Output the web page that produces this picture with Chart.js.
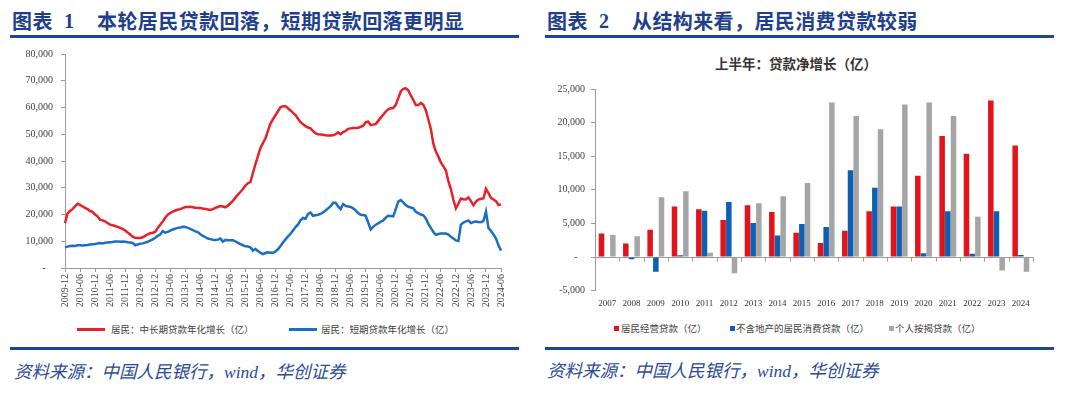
<!DOCTYPE html>
<html>
<head>
<meta charset="utf-8">
<script src="https://cdn.jsdelivr.net/npm/chart.js@4"></script>
<style>
  body { margin: 0; width: 1080px; height: 393px; background: #fff; position: relative; overflow: hidden; }
  .abs { position: absolute; white-space: nowrap; }
  .head { font-family: "Noto Sans CJK SC", sans-serif; font-weight: 700; font-size: 20px; line-height: 20px; color: #1f3f8c; letter-spacing: 0.4px; }
  .rule { position: absolute; height: 3px; background: #1f4690; }
  .src { font-family: "Noto Sans CJK SC", sans-serif; font-style: italic; font-size: 17.5px; line-height: 20px; color: #2a4b98; }
  .src i { font-family: "Liberation Serif", serif; }
  .leg { font-family: "Noto Sans CJK SC", sans-serif; font-size: 9.5px; line-height: 12px; color: #404040; }
</style>
</head>
<body>
<!-- left header -->
<div class="abs head" style="left:12px;top:11px">图表</div>
<div class="abs head" style="left:64px;top:11px;font-family:'Liberation Serif',serif">1</div>
<div class="abs head" style="left:97px;top:11px">本轮居民贷款回落，短期贷款回落更明显</div>
<div class="rule" style="left:10px;top:35px;width:509px"></div>

<!-- right header -->
<div class="abs head" style="left:547px;top:11px">图表</div>
<div class="abs head" style="left:599px;top:11px;font-family:'Liberation Serif',serif">2</div>
<div class="abs head" style="left:632px;top:11px">从结构来看，居民消费贷款较弱</div>
<div class="rule" style="left:545px;top:35px;width:509px"></div>

<div class="abs" style="left:715px;top:55px;font-family:'Noto Sans CJK SC',sans-serif;font-weight:700;font-size:13.5px;line-height:16px;color:#333">上半年：贷款净增长（亿）</div>

<canvas id="c1" width="520" height="280" style="position:absolute;left:0;top:40px"></canvas>
<canvas id="c2" width="510" height="250" style="position:absolute;left:540px;top:70px"></canvas>

<!-- left legend -->
<div class="abs" style="left:77px;top:328px;width:28px;height:3px;background:#e8202a"></div>
<div class="abs leg" style="left:111px;top:323px">居民：中长期贷款年化增长（亿）</div>
<div class="abs" style="left:289px;top:328px;width:28px;height:3px;background:#1b6ec2"></div>
<div class="abs leg" style="left:321px;top:323px">居民：短期贷款年化增长（亿）</div>

<!-- right legend -->
<div class="abs" style="left:614px;top:326px;width:5px;height:5px;background:#e3131b"></div>
<div class="abs leg" style="left:621px;top:322px">居民经营贷款（亿）</div>
<div class="abs" style="left:730px;top:326px;width:5px;height:5px;background:#0b5fb5"></div>
<div class="abs leg" style="left:736px;top:322px">不含地产的居民消费贷款（亿）</div>
<div class="abs" style="left:889px;top:326px;width:5px;height:5px;background:#a5a5a5"></div>
<div class="abs leg" style="left:895px;top:322px">个人按揭贷款（亿）</div>

<div class="rule" style="left:10px;top:347px;width:509px"></div>
<div class="rule" style="left:545px;top:347px;width:509px"></div>
<div class="abs src" style="left:14px;top:361px">资料来源：中国人民银行，<i>wind</i>，华创证券</div>
<div class="abs src" style="left:547px;top:360px">资料来源：中国人民银行，<i>wind</i>，华创证券</div>

<script>
// ---- left chart data: monthly, 2009-12 .. 2024-06 ----
const midLong = [
  16800, 20300, 21300, 22000, 23000, 24000, 23600, 23000, 22500, 22000,
  21300, 21000, 20000, 19300, 18000, 17800, 17400, 16800, 16200, 16000,
  15700, 15400, 15000, 14600, 14000, 13300, 12500, 11700, 11300, 11200,
  11200, 11500, 12000, 12600, 13000, 13200, 13500, 15000, 16200, 17400,
  18800, 19900, 20500, 21100, 21500, 21800, 22000, 22400, 22800, 22800,
  22900, 22700, 22500, 22400, 22400, 22200, 22100, 21900, 21700, 22000,
  22500, 22800, 23200, 23000, 22700, 23300, 24200, 25100, 26300, 27400,
  28400, 29500, 30800, 31700, 32100, 35500, 38800, 41800, 44900, 46700,
  48500, 51300, 54000, 55600, 57100, 58600, 60100, 60500, 60500, 59700,
  58900, 58000, 57200, 55800, 54500, 53700, 53000, 52500, 52200, 51200,
  50300, 50000, 49900, 49800, 49600, 49500, 49500, 49600, 50000, 50700,
  50000, 50800, 51200, 52000, 52200, 52300, 52300, 52400, 52800, 53200,
  54500, 54700, 53400, 53600, 53800, 55000, 56200, 57300, 58500, 59300,
  59700, 59800, 61000, 63500, 66000, 67000, 67200, 66400, 64500, 62800,
  60900, 60900, 61700, 61000, 59000, 55500, 52000, 46500, 43500, 41700,
  39500, 38000, 36500, 32500, 29500, 25500, 22300, 24000, 26000, 25700,
  25600, 26400, 25000, 23500, 24800, 25600, 25900, 26000, 29600, 28000,
  26200, 25600, 25000, 23500, 23800
];
const shortTerm = [
  7700, 8000, 8200, 8300, 8200, 8500, 8500, 8400, 8500, 8600,
  8800, 8900, 9000, 9200, 9300, 9200, 9400, 9500, 9600, 9700,
  9900, 9900, 9800, 9900, 9800, 9600, 9500, 9400, 8500, 8800,
  9100, 9200, 9500, 9800, 10200, 10700, 11300, 12000, 12500, 13800,
  13200, 13500, 14000, 14400, 14700, 15000, 15100, 15400, 15300, 15000,
  14600, 14200, 13700, 13400, 12600, 12000, 11500, 11000, 10800, 10600,
  10500, 10600, 11000, 9900, 10500, 10400, 10400, 10400, 10000, 9400,
  8900, 8500, 8100, 8000, 7700, 6500, 7100, 6400, 5600, 5200,
  5600, 5900, 5700, 5700, 6200, 7000, 8200, 9500, 10700, 11800,
  12800, 14000, 15300, 16300, 17800, 18700, 18400, 20200, 20700, 19500,
  19700, 19900, 20200, 20800, 21500, 22300, 23100, 24400, 24400, 23000,
  22000, 23900, 23200, 23000, 22800, 22300, 21500, 20500, 19900, 19800,
  19500, 17000, 14400, 15400, 16200, 16700, 17300, 17800, 18800, 19500,
  19400, 19300, 22000, 24800, 25400, 24500, 23500, 22900, 22600, 22300,
  21000, 20500, 20000, 19700, 18500, 16500, 15000, 13500, 12400, 12700,
  12900, 12900, 12900, 12500, 11700, 11000, 10300, 10100, 16200, 17000,
  17400, 17800, 16800, 17200, 17400, 17200, 17100, 17600, 21100, 15000,
  13800, 12500, 11000, 8500, 6500
];

// month labels 2009-12 onwards
const months = [];
for (let i = 0; i < midLong.length; i++) {
  const m = 11 + i;
  const y = 2009 + Math.floor(m / 12);
  months.push(y + "-" + String((m % 12) + 1).padStart(2, "0"));
}

// ---- right chart data: first-half net increase ----
const years = ["2007", "2008", "2009", "2010", "2011", "2012", "2013", "2014", "2015",
  "2016", "2017", "2018", "2019", "2020", "2021", "2022", "2023", "2024"];
const businessLoans = [3500, 2000, 4050, 7500, 7100, 5500, 7700, 6700, 3600,
  2100, 3900, 6800, 7500, 12100, 18000, 15350, 23300, 16600];
const consumerLoans = [0, -350, -2200, 250, 6900, 8200, 5050, 3200, 4900,
  4450, 12900, 10300, 7500, 550, 6800, 500, 6800, 300];
const mortgageLoans = [3300, 3100, 8900, 9800, 650, -2400, 8000, 9050, 11000,
  23000, 21000, 19000, 22700, 23000, 21000, 6000, -2000, -2200];

Chart.defaults.font.family = '"Liberation Serif", "Times New Roman", serif';
Chart.defaults.color = "#404040";

const axisGray = "#9a9a9a";

function fmtNum(v) {
  if (v === 0) return "-   ";
  return v.toLocaleString("en-US");
}

// left line chart
new Chart(document.getElementById("c1"), {
  type: "line",
  data: {
    labels: months,
    datasets: [
      { label: "居民：中长期贷款年化增长（亿）", data: midLong, borderColor: "#e8202a", borderWidth: 2.5, pointRadius: 0, tension: 0 },
      { label: "居民：短期贷款年化增长（亿）", data: shortTerm, borderColor: "#1b6ec2", borderWidth: 2.5, pointRadius: 0, tension: 0 },
    ],
  },
  options: {
    responsive: false,
    animation: false,
    layout: { padding: { top: 9, right: 19, left: 0, bottom: 0 } },
    plugins: { legend: { display: false }, tooltip: { enabled: false } },
    scales: {
      x: {
        offset: false,
        afterFit: (s) => { s.height = 52; },
        border: { color: axisGray },
        grid: { drawOnChartArea: false, drawTicks: true, tickLength: 4, color: axisGray },
        ticks: {
          autoSkip: false, maxRotation: 90, minRotation: 90, padding: 2,
          font: { size: 10 },
          callback: function (val, idx) { return idx % 6 === 0 ? months[idx] : null; },
        },
      },
      y: {
        min: 0, max: 80000,
        afterFit: (s) => { s.width = 65; },
        border: { color: axisGray },
        grid: { drawOnChartArea: false, drawTicks: true, tickLength: 4, color: axisGray },
        ticks: { stepSize: 10000, padding: 8, font: { size: 10 }, callback: fmtNum },
      },
    },
  },
});

// zero line + category tick marks for the bar chart
const zeroAxis = {
  id: "zeroAxis",
  beforeDatasetsDraw(chart) {
    const { ctx, chartArea, scales } = chart;
    const y0 = Math.round(scales.y.getPixelForValue(0)) + 0.5;
    const n = years.length;
    const w = (chartArea.right - chartArea.left) / n;
    ctx.save();
    ctx.strokeStyle = axisGray;
    ctx.lineWidth = 1;
    ctx.beginPath();
    ctx.moveTo(chartArea.left, y0);
    ctx.lineTo(chartArea.right, y0);
    for (let i = 1; i <= n; i++) {
      const x = Math.round(chartArea.left + i * w) + 0.5;
      ctx.moveTo(x, y0);
      ctx.lineTo(x, y0 + 4);
    }
    ctx.stroke();
    ctx.restore();
  },
};

// right bar chart
new Chart(document.getElementById("c2"), {
  type: "bar",
  data: {
    labels: years,
    datasets: [
      { label: "居民经营贷款（亿）", data: businessLoans, backgroundColor: "#e3131b" },
      { label: "不含地产的居民消费贷款（亿）", data: consumerLoans, backgroundColor: "#0b5fb5" },
      { label: "个人按揭贷款（亿）", data: mortgageLoans, backgroundColor: "#a5a5a5" },
    ],
  },
  options: {
    responsive: false,
    animation: false,
    categoryPercentage: 0.7,
    barPercentage: 0.97,
    layout: { padding: { top: 19, right: 17, left: 0, bottom: 0 } },
    plugins: { legend: { display: false }, tooltip: { enabled: false } },
    scales: {
      x: {
        afterFit: (s) => { s.height = 29.4; },
        border: { display: false },
        grid: { display: false, drawTicks: false },
        ticks: { padding: 8, font: { size: 9 }, color: "#333" },
      },
      y: {
        min: -5000, max: 25000,
        afterFit: (s) => { s.width = 55; },
        border: { color: axisGray },
        grid: { drawOnChartArea: false, drawTicks: true, tickLength: 4, color: axisGray },
        ticks: { stepSize: 5000, padding: 6, font: { size: 10 }, callback: fmtNum },
      },
    },
  },
  plugins: [zeroAxis],
});
</script>
</body>
</html>
